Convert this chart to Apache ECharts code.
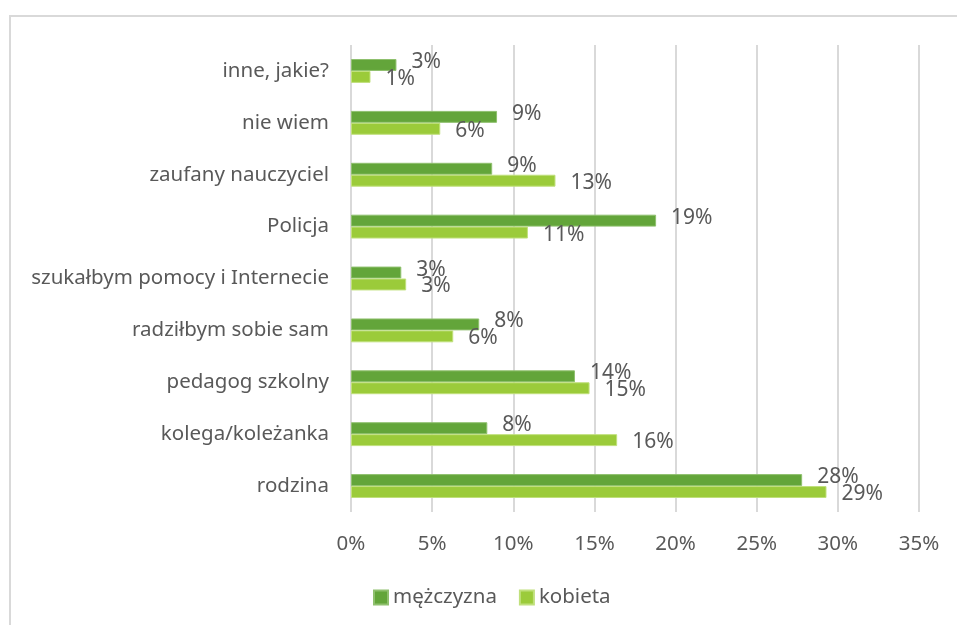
<!DOCTYPE html>
<html lang="pl">
<head>
    <meta charset="utf-8">
    <title>Do kogo zwróciłbyś się o pomoc</title>
    <script src="https://cdn.jsdelivr.net/npm/echarts@6/dist/echarts.min.js"></script>
    <style>
        html, body { margin: 0; padding: 0; background: #fff; }
        #main { width: 957px; height: 625px; }
    </style>
</head>
<body>
<div id="main"></div>
<script type="text/javascript">
    // kategorie (od dołu do góry)
    var categories = ['rodzina', 'kolega/koleżanka', 'pedagog szkolny', 'radziłbym sobie sam',
        'szukałbym pomocy i Internecie', 'Policja', 'zaufany nauczyciel', 'nie wiem', 'inne, jakie?'];
    var men = [27.8, 8.4, 13.8, 7.9, 3.1, 18.8, 8.7, 9.0, 2.8];
    var women = [29.3, 16.4, 14.7, 6.3, 3.4, 10.9, 12.6, 5.5, 1.2];
    var xTicks = [0, 5, 10, 15, 20, 25, 30, 35];

    var font = 'Noto Sans';
    var textColor = '#595959';

    var myChart = echarts.init(document.getElementById('main'));
    var option = {
        animation: false,
        textStyle: { fontFamily: font },
        graphic: [{
            type: 'rect',
            shape: { x: 10, y: 16, width: 1000, height: 700 },
            style: { fill: 'none', stroke: '#d9d9d9', lineWidth: 2 },
            silent: true
        }],
        legend: {
            data: ['mężczyzna', 'kobieta'],
            left: 368,
            top: 582,
            icon: 'rect',
            itemWidth: 14,
            itemHeight: 14,
            itemGap: 22,
            textStyle: { fontFamily: font, fontSize: 20.5, color: textColor }
        },
        grid: { left: 351, right: 38, top: 45, bottom: 113 },
        xAxis: {
            type: 'value',
            min: xTicks[0],
            max: xTicks[xTicks.length - 1],
            interval: 5,
            axisLine: { show: false },
            axisTick: { show: false },
            splitLine: { lineStyle: { color: '#d9d9d9', width: 2 } },
            axisLabel: {
                margin: 22,
                fontFamily: font,
                fontSize: 20.5,
                color: textColor,
                formatter: function (v) { return v + '%'; }
            }
        },
        yAxis: {
            type: 'category',
            data: categories,
            axisLine: { show: false },
            axisTick: { show: false },
            axisLabel: { margin: 22, fontFamily: font, fontSize: 20.5, color: textColor }
        },
        series: [{
            name: 'mężczyzna',
            type: 'bar',
            data: men,
            barGap: '0%',
            barCategoryGap: '54%',
            itemStyle: { color: '#63A53A', borderColor: '#8fc06e', borderWidth: 1 },
            label: {
                show: true, position: 'right', distance: 15, offset: [0, -3],
                fontFamily: font, fontSize: 21, color: textColor,
                formatter: function (p) { return Math.round(p.value) + '%'; }
            }
        }, {
            name: 'kobieta',
            type: 'bar',
            data: women,
            barGap: '0%',
            barCategoryGap: '54%',
            itemStyle: { color: '#9BCB3A', borderColor: '#c0e07c', borderWidth: 1 },
            label: {
                show: true, position: 'right', distance: 15, offset: [0, 2],
                fontFamily: font, fontSize: 21, color: textColor,
                formatter: function (p) { return Math.round(p.value) + '%'; }
            }
        }]
    };
    myChart.setOption(option);
</script>
</body>
</html>
